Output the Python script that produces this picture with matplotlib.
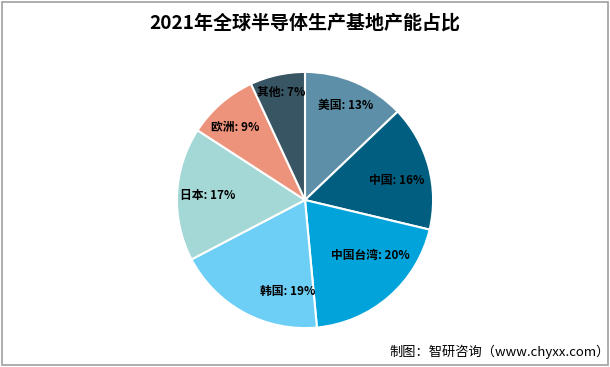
import matplotlib
matplotlib.use('Agg')
import numpy as np
import matplotlib.pyplot as plt
from matplotlib.patches import Rectangle

plt.rcParams['font.family'] = ['Noto Sans CJK SC', 'DejaVu Sans']

# Data
regions = ['美国', '中国', '中国台湾', '韩国', '日本', '欧洲', '其他']
shares = [13, 16, 20, 19, 17, 9, 7]
colors = ['#5D90A8', '#005F80', '#00A4DB', '#6DCFF6', '#A3D8D6', '#EE937B', '#385563']

# label placement (radius fraction, angle shift from wedge middle in degrees)
label_r = [0.80, 0.73, 0.67, 0.73, 0.76, 0.79, 0.86]
label_shift = [0, -3, 9, 18, 0, 3, 0]

fig = plt.figure(figsize=(6.1, 3.67), dpi=100)
ax = fig.add_axes([0.29, 0.106, 0.42, 0.698])

labels = [f'{r}: {v}%' for r, v in zip(regions, shares)]
wedges, texts = ax.pie(shares, colors=colors, startangle=90, counterclock=False,
                       labels=labels, labeldistance=0.74,
                       wedgeprops=dict(edgecolor='white', linewidth=1.5),
                       textprops=dict(fontsize=8.5, fontweight='bold', color='black',
                                      ha='center', va='center'))
for w, t, r, s in zip(wedges, texts, label_r, label_shift):
    mid = np.deg2rad((w.theta1 + w.theta2) / 2 + s)
    t.set_position((r * np.cos(mid), r * np.sin(mid)))
    t.set_ha('center')
ax.set_xlim(-1, 1)
ax.set_ylim(-1, 1)
ax.set_aspect('equal')

fig.text(0.5, 0.938, '2021年全球半导体生产基地产能占比', ha='center', va='center',
         fontsize=13.7, fontweight='bold')
fig.text(1.0, 0.04, '制图：智研咨询（www.chyxx.com）', ha='right', va='center',
         fontsize=9.5)

# outer border
fig.patches.append(Rectangle((0.004, 0.006), 0.992, 0.988, transform=fig.transFigure,
                             fill=False, edgecolor='#A0A0A0', linewidth=1.2))

plt.savefig('out.png', dpi=100)
